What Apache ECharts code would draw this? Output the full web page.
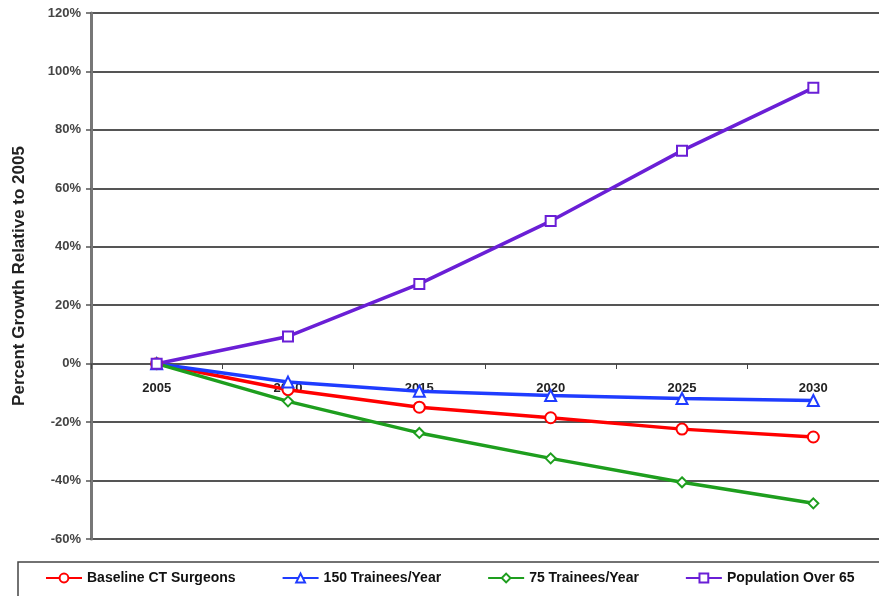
<!DOCTYPE html>
<html>
<head>
<meta charset="utf-8">
<script src="https://cdn.jsdelivr.net/npm/echarts@6/dist/echarts.min.js"></script>
<style>
html,body{margin:0;padding:0;background:#fff;}
#chart{width:879px;height:596px;}
</style>
</head>
<body>
<div id="chart"></div>
<script>
var years = ['2005', '2010', '2015', '2020', '2025', '2030'];
var baselineCT = [0, -8.9, -14.9, -18.5, -22.4, -25.1];
var trainees150 = [0, -6.3, -9.4, -10.9, -11.9, -12.6];
var trainees75 = [0, -12.9, -23.7, -32.4, -40.6, -47.8];
var popOver65 = [0, 9.3, 27.3, 48.8, 72.9, 94.4];
var yTicks = { min: -60, max: 120, interval: 20 };

var FONT = 'Arial, "Liberation Sans", sans-serif';

function mk(name, data, color, symbol, size) {
  return {
    name: name,
    type: 'line',
    data: data,
    symbol: symbol,
    symbolSize: size,
    showAllSymbol: true,
    lineStyle: { color: color, width: 3.5 },
    itemStyle: { color: '#ffffff', borderColor: color, borderWidth: 2 },
    emphasis: { disabled: true },
    z: 3
  };
}

var chart = echarts.init(document.getElementById('chart'), null, { renderer: 'canvas' });
chart.setOption({
  animation: false,
  backgroundColor: '#ffffff',
  grid: { left: 91, right: -5, top: 13, bottom: 57, containLabel: false },
  legend: {
    left: 18,
    top: 562,
    width: 1000,
    orient: 'horizontal',
    padding: [9, 40, 30, 27],
    borderColor: '#444',
    borderWidth: 1.5,
    itemWidth: 36,
    itemHeight: 11,
    itemGap: 46,
    textStyle: { fontFamily: FONT, fontWeight: 'bold', fontSize: 14, color: '#111' },
    data: ['Baseline CT Surgeons', '150 Trainees/Year', '75 Trainees/Year', 'Population Over 65']
  },
  xAxis: {
    type: 'category',
    data: years,
    boundaryGap: true,
    position: 'bottom',
    offset: -175,
    axisLine: { onZero: false, lineStyle: { color: '#555', width: 2 } },
    axisTick: { show: true, length: 5, inside: false, lineStyle: { color: '#444', width: 1 } },
    axisLabel: { margin: 18, fontFamily: FONT, fontWeight: 'bold', fontSize: 13, color: '#222' },
    splitLine: { show: false }
  },
  yAxis: {
    type: 'value',
    min: yTicks.min,
    max: yTicks.max,
    interval: yTicks.interval,
    name: 'Percent Growth Relative to 2005',
    nameLocation: 'middle',
    nameRotate: 90,
    nameGap: 63,
    nameTextStyle: { fontFamily: FONT, fontWeight: 'bold', fontSize: 17, color: '#222' },
    axisLine: { show: true, lineStyle: { color: '#777', width: 3 } },
    axisTick: { show: true, length: 5, lineStyle: { color: '#555', width: 1.5 } },
    axisLabel: { margin: 10, formatter: '{value}%', fontFamily: FONT, fontWeight: 'bold', fontSize: 13, color: '#444' },
    splitLine: { show: true, lineStyle: { color: '#555', width: 2 } }
  },
  series: [
    mk('Baseline CT Surgeons', baselineCT, '#ff0000', 'circle', 11),
    mk('150 Trainees/Year', trainees150, '#1f3cff', 'triangle', 11),
    mk('75 Trainees/Year', trainees75, '#1e9e1e', 'diamond', 10),
    mk('Population Over 65', popOver65, '#6a1fd6', 'rect', 10)
  ]
});
</script>
</body>
</html>
